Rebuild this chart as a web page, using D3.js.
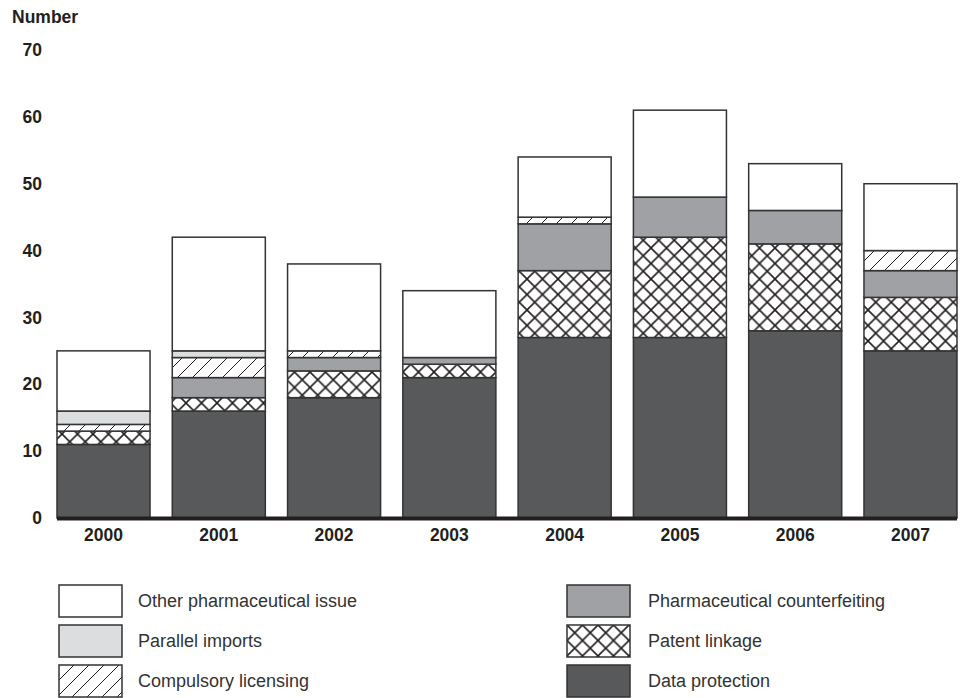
<!doctype html>
<html>
<head>
<meta charset="utf-8" />
<title>Number by year</title>
<script src="https://cdn.jsdelivr.net/npm/d3@7/dist/d3.min.js"></script>
<style>
	body { margin: 0; background: #fff; }
	svg { display: block; font-family: "Liberation Sans", Arial, sans-serif; }
	.tick-label { font-size: 17.5px; font-weight: bold; fill: #231f20; }
	.legend-label { font-size: 18px; fill: #333; }
</style>
</head>
<body>
<div id="chart"></div>
<script>
// data
const years = ['2000', '2001', '2002', '2003', '2004', '2005', '2006', '2007'];
const seriesNames = ['Data protection', 'Patent linkage', 'Pharmaceutical counterfeiting',
	'Compulsory licensing', 'Parallel imports', 'Other pharmaceutical issue'];
const dataProtection = [11, 16, 18, 21, 27, 27, 28, 25];
const patentLinkage = [2, 2, 4, 2, 10, 15, 13, 8];
const counterfeiting = [0, 3, 2, 1, 7, 6, 5, 4];
const compulsory = [1, 3, 1, 0, 1, 0, 0, 3];
const parallelImports = [2, 1, 0, 0, 0, 0, 0, 0];
const otherIssue = [9, 17, 13, 10, 9, 13, 7, 10];
const yTicks = [0, 10, 20, 30, 40, 50, 60, 70];

const seriesValues = [dataProtection, patentLinkage, counterfeiting, compulsory, parallelImports, otherIssue];
const fills = ['#58595b', 'url(#cross)', '#a0a1a4', 'url(#hatch)', '#dcdddf', '#ffffff'];

const width = 965, height = 698;
const svg = d3.select('#chart').append('svg').attr('width', width).attr('height', height);

const defs = svg.append('defs');
const cross = defs.append('pattern').attr('id', 'cross').attr('patternUnits', 'userSpaceOnUse')
	.attr('width', 15.5).attr('height', 15.5);
cross.append('rect').attr('width', 15.5).attr('height', 15.5).attr('fill', '#fff');
cross.append('path').attr('d', 'M0,0L15.5,15.5M15.5,0L0,15.5').attr('stroke', '#231f20').attr('stroke-width', 1.6);
const hatch = defs.append('pattern').attr('id', 'hatch').attr('patternUnits', 'userSpaceOnUse')
	.attr('width', 15).attr('height', 15);
hatch.append('rect').attr('width', 15).attr('height', 15).attr('fill', '#fff');
hatch.append('path').attr('d', 'M0,15L15,0M-3,3L3,-3M12,18L18,12').attr('stroke', '#231f20').attr('stroke-width', 1);

const x = d3.scaleBand().domain(years).range([57, 957]).paddingInner(0.193).paddingOuter(0);
const y = d3.scaleLinear().domain([0, 70]).range([518, 50]);

// build stack table
const table = years.map((yr, i) => {
	const row = { year: yr };
	seriesNames.forEach((n, j) => { row[n] = seriesValues[j][i]; });
	return row;
});
const stacked = d3.stack().keys(seriesNames)(table);

const layers = svg.append('g').selectAll('g')
	.data(stacked)
	.join('g')
	.attr('fill', (d, i) => fills[i]);
layers.selectAll('rect')
	.data(d => d.filter(p => p[1] > p[0]))
	.join('rect')
	.attr('x', d => x(d.data.year))
	.attr('width', x.bandwidth())
	.attr('y', d => y(d[1]))
	.attr('height', d => y(d[0]) - y(d[1]))
	.attr('stroke', '#333')
	.attr('stroke-width', 1.5);

// baseline
svg.append('line').attr('x1', 57).attr('x2', 957).attr('y1', y(0) + 0.5).attr('y2', y(0) + 0.5)
	.attr('stroke', '#231f20').attr('stroke-width', 4);

// y ticks
svg.append('g').selectAll('text')
	.data(yTicks)
	.join('text')
	.attr('class', 'tick-label')
	.attr('x', 42)
	.attr('y', d => y(d))
	.attr('dy', '0.35em')
	.attr('text-anchor', 'end')
	.text(d => d);
svg.append('text').attr('class', 'tick-label').attr('x', 12).attr('y', 23).text('Number');

// x labels
svg.append('g').selectAll('text')
	.data(years)
	.join('text')
	.attr('class', 'tick-label')
	.attr('x', d => x(d) + x.bandwidth() / 2)
	.attr('y', 541)
	.attr('text-anchor', 'middle')
	.text(d => d);

// legend
const legendItems = [
	{ name: 'Other pharmaceutical issue', fill: fills[5], col: 0, row: 0 },
	{ name: 'Parallel imports', fill: fills[4], col: 0, row: 1 },
	{ name: 'Compulsory licensing', fill: fills[3], col: 0, row: 2 },
	{ name: 'Pharmaceutical counterfeiting', fill: fills[2], col: 1, row: 0 },
	{ name: 'Patent linkage', fill: fills[1], col: 1, row: 1 },
	{ name: 'Data protection', fill: fills[0], col: 1, row: 2 }
];
const legend = svg.append('g').selectAll('g')
	.data(legendItems)
	.join('g')
	.attr('transform', d => `translate(${d.col ? 567 : 59},${585 + d.row * 40})`);
legend.append('rect')
	.attr('width', 63).attr('height', 32)
	.attr('fill', d => d.fill)
	.attr('stroke', '#333').attr('stroke-width', 1.5);
legend.append('text')
	.attr('class', 'legend-label')
	.attr('x', d => d.col ? 81 : 79)
	.attr('y', 16)
	.attr('dy', '0.35em')
	.text(d => d.name);
</script>
</body>
</html>
